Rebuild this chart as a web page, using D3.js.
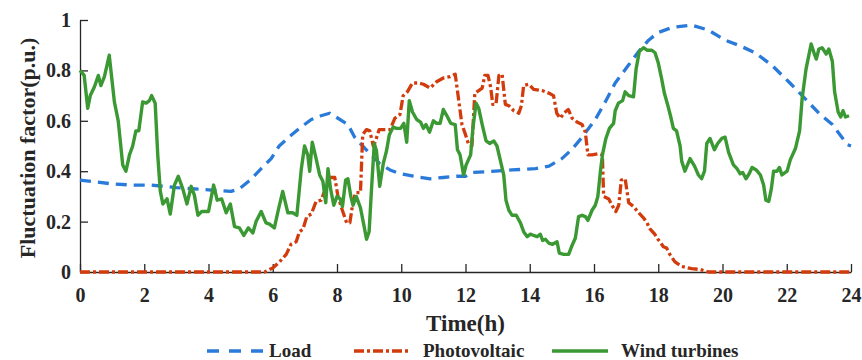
<!DOCTYPE html>
<html>
<head>
<meta charset="utf-8">
<script src="https://cdn.jsdelivr.net/npm/d3@7"></script>
<style>
  body { margin: 0; background: #fff; }
  svg text { font-family: "Liberation Serif", "Times New Roman", serif; font-weight: bold; fill: #262626; }
</style>
</head>
<body>
<div id="chart"></div>
<script>
const xTicks = [0, 2, 4, 6, 8, 10, 12, 14, 16, 18, 20, 22, 24];
const yTicks = [0, 0.2, 0.4, 0.6, 0.8, 1];

const loadHours = [0, 0.97, 1.6, 2.2, 3.0, 4.1, 4.7, 4.96, 5.3, 5.64, 5.95, 6.2, 6.5, 6.83, 7.2, 7.5, 7.77, 8.03, 8.34, 8.55, 8.76, 9.02, 9.33, 9.65, 9.96, 10.38, 10.9, 11.31, 11.73, 12.0, 12.2, 12.93, 13.45, 14.18, 14.6, 15.0, 15.3, 15.6, 16.04, 16.35, 16.66, 17.07, 17.39, 17.7, 17.99, 18.42, 19.04, 19.56, 20.08, 20.5, 21.02, 21.54, 22.06, 22.48, 23.0, 23.42, 23.89, 24];
const loadValues = [0.365, 0.35, 0.345, 0.345, 0.335, 0.325, 0.32, 0.33, 0.365, 0.41, 0.45, 0.5, 0.535, 0.57, 0.605, 0.62, 0.63, 0.61, 0.585, 0.535, 0.505, 0.47, 0.43, 0.405, 0.39, 0.38, 0.37, 0.375, 0.38, 0.38, 0.395, 0.4, 0.405, 0.41, 0.42, 0.45, 0.485, 0.53, 0.605, 0.675, 0.75, 0.82, 0.875, 0.92, 0.95, 0.97, 0.98, 0.96, 0.92, 0.9, 0.87, 0.82, 0.755, 0.7, 0.63, 0.585, 0.505, 0.5];

const pvHours = [0, 5.74, 5.95, 6.0, 6.21, 6.42, 6.57, 6.73, 6.83, 6.94, 7.06, 7.2, 7.35, 7.51, 7.61, 7.77, 7.93, 8.03, 8.14, 8.3, 8.4, 8.5, 8.58, 8.73, 8.8, 8.92, 9.02, 9.13, 9.2, 9.31, 9.49, 9.65, 9.8, 9.96, 10.06, 10.19, 10.35, 10.53, 10.69, 10.9, 11.1, 11.31, 11.52, 11.68, 11.78, 11.89, 12.0, 12.1, 12.2, 12.29, 12.41, 12.52, 12.6, 12.7, 12.78, 12.85, 12.95, 13.04, 13.14, 13.24, 13.35, 13.5, 13.66, 13.74, 13.81, 13.97, 14.12, 14.38, 14.59, 14.74, 14.84, 14.95, 15.06, 15.2, 15.32, 15.47, 15.63, 15.73, 15.81, 15.94, 16.15, 16.26, 16.3, 16.46, 16.58, 16.68, 16.77, 16.85, 16.97, 17.08, 17.23, 17.39, 17.54, 17.65, 17.75, 17.89, 17.99, 18.05, 18.16, 18.26, 18.36, 18.52, 18.73, 19.04, 19.3, 19.56, 24];
const pvValues = [0, 0, 0.013, 0.016, 0.04, 0.07, 0.11, 0.12, 0.16, 0.17, 0.22, 0.23, 0.28, 0.285, 0.32, 0.375, 0.375, 0.3, 0.255, 0.195, 0.195, 0.28, 0.315, 0.315, 0.545, 0.565, 0.56, 0.5, 0.52, 0.565, 0.565, 0.565, 0.61, 0.625, 0.7, 0.715, 0.75, 0.75, 0.745, 0.73, 0.755, 0.77, 0.775, 0.785, 0.69, 0.585, 0.545, 0.505, 0.5, 0.71, 0.72, 0.73, 0.78, 0.78, 0.735, 0.665, 0.665, 0.78, 0.785, 0.665, 0.66, 0.64, 0.63, 0.66, 0.74, 0.745, 0.725, 0.72, 0.71, 0.7, 0.63, 0.61, 0.63, 0.645, 0.61, 0.595, 0.585, 0.555, 0.465, 0.465, 0.47, 0.465, 0.3, 0.29, 0.26, 0.24, 0.265, 0.365, 0.37, 0.275, 0.26, 0.235, 0.215, 0.195, 0.17, 0.15, 0.13, 0.12, 0.1, 0.095, 0.07, 0.04, 0.022, 0.013, 0.01, 0, 0];

const windHours = [0, 0.13, 0.24, 0.32, 0.45, 0.57, 0.65, 0.76, 0.91, 1.07, 1.19, 1.33, 1.43, 1.54, 1.64, 1.74, 1.83, 1.95, 2.06, 2.16, 2.23, 2.34, 2.42, 2.5, 2.58, 2.71, 2.81, 2.94, 3.06, 3.2, 3.33, 3.46, 3.56, 3.67, 3.79, 3.87, 4.0, 4.16, 4.27, 4.41, 4.55, 4.68, 4.81, 4.96, 5.1, 5.24, 5.38, 5.48, 5.64, 5.79, 5.9, 6.05, 6.18, 6.31, 6.47, 6.62, 6.75, 6.89, 6.99, 7.09, 7.15, 7.23, 7.35, 7.46, 7.56, 7.65, 7.72, 7.8, 7.9, 8.0, 8.1, 8.17, 8.27, 8.34, 8.43, 8.5, 8.6, 8.73, 8.83, 8.92, 9.0, 9.07, 9.16, 9.23, 9.33, 9.44, 9.54, 9.63, 9.75, 9.85, 9.98, 10.08, 10.17, 10.25, 10.35, 10.48, 10.6, 10.69, 10.77, 10.88, 11.0, 11.1, 11.21, 11.31, 11.42, 11.54, 11.68, 11.75, 11.83, 11.94, 12.02, 12.16, 12.23, 12.33, 12.41, 12.52, 12.64, 12.75, 12.88, 12.98, 13.09, 13.19, 13.26, 13.35, 13.45, 13.58, 13.71, 13.81, 13.92, 14.02, 14.12, 14.23, 14.33, 14.4, 14.49, 14.59, 14.71, 14.85, 14.92, 15.06, 15.21, 15.3, 15.42, 15.52, 15.63, 15.73, 15.81, 15.94, 16.04, 16.12, 16.2, 16.27, 16.37, 16.48, 16.61, 16.66, 16.76, 16.89, 16.97, 17.08, 17.23, 17.31, 17.41, 17.54, 17.65, 17.8, 17.9, 18.0, 18.1, 18.19, 18.3, 18.4, 18.47, 18.57, 18.68, 18.73, 18.83, 18.99, 19.13, 19.25, 19.35, 19.44, 19.51, 19.61, 19.75, 19.85, 19.98, 20.08, 20.19, 20.34, 20.45, 20.55, 20.63, 20.73, 20.83, 20.92, 21.05, 21.18, 21.28, 21.35, 21.44, 21.52, 21.59, 21.7, 21.77, 21.85, 22.01, 22.11, 22.27, 22.4, 22.48, 22.6, 22.76, 22.86, 22.92, 23.0, 23.1, 23.23, 23.31, 23.42, 23.49, 23.6, 23.68, 23.75, 23.83, 23.94];
const windValues = [0.8, 0.78, 0.65, 0.7, 0.735, 0.78, 0.74, 0.775, 0.86, 0.675, 0.6, 0.425, 0.4, 0.465, 0.5, 0.56, 0.56, 0.675, 0.67, 0.68, 0.7, 0.67, 0.465, 0.32, 0.27, 0.29, 0.23, 0.345, 0.38, 0.33, 0.27, 0.34, 0.305, 0.225, 0.24, 0.24, 0.24, 0.345, 0.285, 0.29, 0.235, 0.27, 0.18, 0.175, 0.145, 0.175, 0.155, 0.2, 0.24, 0.195, 0.19, 0.175, 0.25, 0.32, 0.235, 0.235, 0.225, 0.41, 0.5, 0.465, 0.4, 0.515, 0.45, 0.385, 0.36, 0.275, 0.41, 0.33, 0.265, 0.3, 0.29, 0.26, 0.365, 0.37, 0.3, 0.265, 0.3, 0.255, 0.19, 0.13, 0.16, 0.32, 0.51, 0.48, 0.34, 0.43, 0.48, 0.545, 0.575, 0.57, 0.57, 0.59, 0.515, 0.68, 0.635, 0.605, 0.595, 0.57, 0.585, 0.555, 0.6, 0.59, 0.59, 0.645, 0.62, 0.59, 0.585, 0.485, 0.465, 0.385, 0.425, 0.465, 0.57, 0.67, 0.65, 0.585, 0.52, 0.51, 0.52, 0.5, 0.44, 0.385, 0.285, 0.245, 0.225, 0.225, 0.195, 0.16, 0.14, 0.15, 0.145, 0.14, 0.15, 0.125, 0.13, 0.115, 0.11, 0.12, 0.075, 0.07, 0.07, 0.1, 0.135, 0.22, 0.225, 0.22, 0.205, 0.245, 0.265, 0.3, 0.4, 0.47, 0.53, 0.57, 0.59, 0.64, 0.67, 0.68, 0.715, 0.7, 0.695, 0.805, 0.875, 0.89, 0.88, 0.88, 0.87, 0.83, 0.77, 0.71, 0.66, 0.61, 0.57, 0.56, 0.5, 0.44, 0.4, 0.45, 0.42, 0.385, 0.37, 0.4, 0.51, 0.53, 0.485, 0.51, 0.53, 0.535, 0.475, 0.425, 0.41, 0.39, 0.395, 0.37, 0.39, 0.415, 0.405, 0.385, 0.345, 0.285, 0.28, 0.33, 0.4, 0.4, 0.415, 0.385, 0.4, 0.445, 0.49, 0.56, 0.69, 0.805, 0.905, 0.865, 0.845, 0.885, 0.89, 0.865, 0.885, 0.835, 0.715, 0.635, 0.615, 0.64, 0.615, 0.62, 0.64];

const seriesNames = ['Load', 'Photovoltaic', 'Wind turbines'];

const width = 862, height = 360;
const margin = { top: 20, right: 11, bottom: 88, left: 80 };
const innerW = width - margin.left - margin.right;
const innerH = height - margin.top - margin.bottom;

const styles = [
  { color: '#2a7ada', dash: '11,7', legendDash: '12,10', width: 3.3 },
  { color: '#d23b0c', dash: '10,3,3,3', legendDash: '10,3,3,3', width: 3.3 },
  { color: '#3a9933', dash: null, legendDash: null, width: 3.4 }
];

const svg = d3.select('#chart')
  .append('svg')
  .attr('width', width)
  .attr('height', height);

const g = svg.append('g')
  .attr('transform', `translate(${margin.left},${margin.top})`);

const x = d3.scaleLinear().domain([0, 24]).range([0, innerW]);
const y = d3.scaleLinear().domain([0, 1]).range([innerH, 0]);

// axes, ticks point inward
const xAxis = g.append('g')
  .attr('transform', `translate(0,${innerH})`)
  .call(d3.axisBottom(x).tickValues(xTicks).tickSizeInner(-8).tickSizeOuter(0).tickPadding(16).tickFormat(d3.format('d')));
const yAxis = g.append('g')
  .call(d3.axisLeft(y).tickValues(yTicks).tickSizeInner(-8).tickSizeOuter(0).tickPadding(9).tickFormat(d => d === 0 || d === 1 ? d3.format('d')(d) : d3.format('.1f')(d)));

[xAxis, yAxis].forEach(a => {
  a.selectAll('path').attr('stroke', '#262626').attr('stroke-width', 1.3);
  a.selectAll('line').attr('stroke', '#262626').attr('stroke-width', 1.3);
  a.selectAll('text').attr('font-size', '20px').attr('font-family', '"Liberation Serif", serif').attr('font-weight', 'bold').attr('fill', '#262626');
});

const line = d3.line().x(d => x(d[0])).y(d => y(d[1]));
const seriesData = [
  d3.zip(loadHours, loadValues),
  d3.zip(pvHours, pvValues),
  d3.zip(windHours, windValues)
];

seriesData.forEach((data, i) => {
  g.append('path')
    .datum(data)
    .attr('fill', 'none')
    .attr('stroke', styles[i].color)
    .attr('stroke-width', styles[i].width)
    .attr('stroke-dasharray', styles[i].dash)
    .attr('stroke-linejoin', 'round')
    .attr('d', line);
});

// axis titles
svg.append('text')
  .attr('x', margin.left + innerW / 2)
  .attr('y', 331)
  .attr('text-anchor', 'middle')
  .attr('font-size', '23px')
  .text('Time(h)');

svg.append('text')
  .attr('transform', `translate(35,${margin.top + innerH / 2 + 2}) rotate(-90)`)
  .attr('text-anchor', 'middle')
  .attr('font-size', '22px')
  .text('Fluctuation factor(p.u.)');

// legend
const legendX = [207, 354, 552];
const legend = svg.append('g');
seriesNames.forEach((name, i) => {
  legend.append('line')
    .attr('x1', legendX[i]).attr('x2', legendX[i] + 56)
    .attr('y1', 351).attr('y2', 351)
    .attr('stroke', styles[i].color)
    .attr('stroke-width', styles[i].width)
    .attr('stroke-dasharray', styles[i].legendDash);
  legend.append('text')
    .attr('x', legendX[i] + (i === 0 ? 62 : 69))
    .attr('y', 357)
    .attr('font-size', '19px')
    .text(name);
});
</script>
</body>
</html>
